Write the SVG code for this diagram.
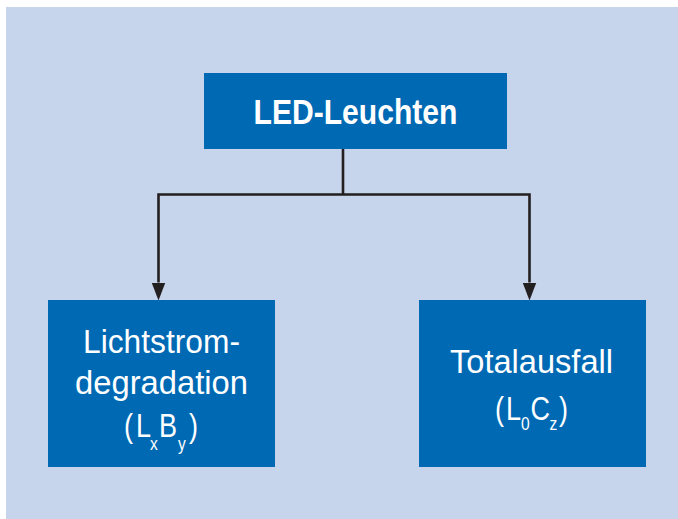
<svg xmlns="http://www.w3.org/2000/svg" width="678" height="519" viewBox="0 0 678 519">
  <defs>
    <style>
      .bg { fill: #c6d5eb; }
      .box { fill: #0069b4; }
      .t { font-family: "Liberation Sans", Arial, sans-serif; fill: #ffffff; }
      .b { font-weight: bold; }
      .sub { font-size: 19px; }
      .conn { stroke: #231f20; stroke-width: 2.6; fill: none; }
    </style>
    <marker id="arr" markerUnits="userSpaceOnUse" markerWidth="18" markerHeight="14" refX="0" refY="6.5" orient="auto" viewBox="0 0 17 13">
      <path d="M0,0 L17,6.5 L0,13 Z" fill="#231f20"/>
    </marker>
  </defs>
  <rect class="bg" x="6" y="7" width="672" height="512"/>

  <g id="connectors">
    <path class="conn" d="M343,149 V194.5"/>
    <path class="conn" d="M343,194.5 H158.5 V282.5" marker-end="url(#arr)"/>
    <path class="conn" d="M343,194.5 H529.5 V282.5" marker-end="url(#arr)"/>
  </g>

  <g id="node-led">
    <rect class="box" x="204" y="73" width="303" height="76"/>
    <text class="t b" x="355.5" y="124" font-size="35" text-anchor="middle" textLength="204" lengthAdjust="spacingAndGlyphs">LED-Leuchten</text>
  </g>

  <g id="node-lichtstrom">
    <rect class="box" x="48" y="300" width="227" height="167"/>
    <text class="t" x="161.5" y="353" font-size="33" text-anchor="middle" textLength="157" lengthAdjust="spacingAndGlyphs">Lichtstrom-</text>
    <text class="t" x="161.5" y="394" font-size="33" text-anchor="middle" textLength="173" lengthAdjust="spacingAndGlyphs">degradation</text>
    <text class="t" font-size="33" transform="translate(124,0) scale(0.82,1)"><tspan x="0" y="437">(</tspan><tspan x="14.6" y="437">L</tspan><tspan class="sub" x="31.7" y="450">x</tspan><tspan x="42.7" y="437">B</tspan><tspan class="sub" x="65.9" y="450">y</tspan><tspan x="79.3" y="437">)</tspan></text>
  </g>

  <g id="node-totalausfall">
    <rect class="box" x="419" y="300" width="227" height="167"/>
    <text class="t" x="531.5" y="373" font-size="33" text-anchor="middle" textLength="163" lengthAdjust="spacingAndGlyphs">Totalausfall</text>
    <text class="t" font-size="33" transform="translate(495,0) scale(0.82,1)"><tspan x="0" y="420">(</tspan><tspan x="13.4" y="420">L</tspan><tspan class="sub" x="31.7" y="430">0</tspan><tspan x="43.3" y="420">C</tspan><tspan class="sub" x="66.5" y="430">z</tspan><tspan x="78" y="420">)</tspan></text>
  </g>
</svg>
